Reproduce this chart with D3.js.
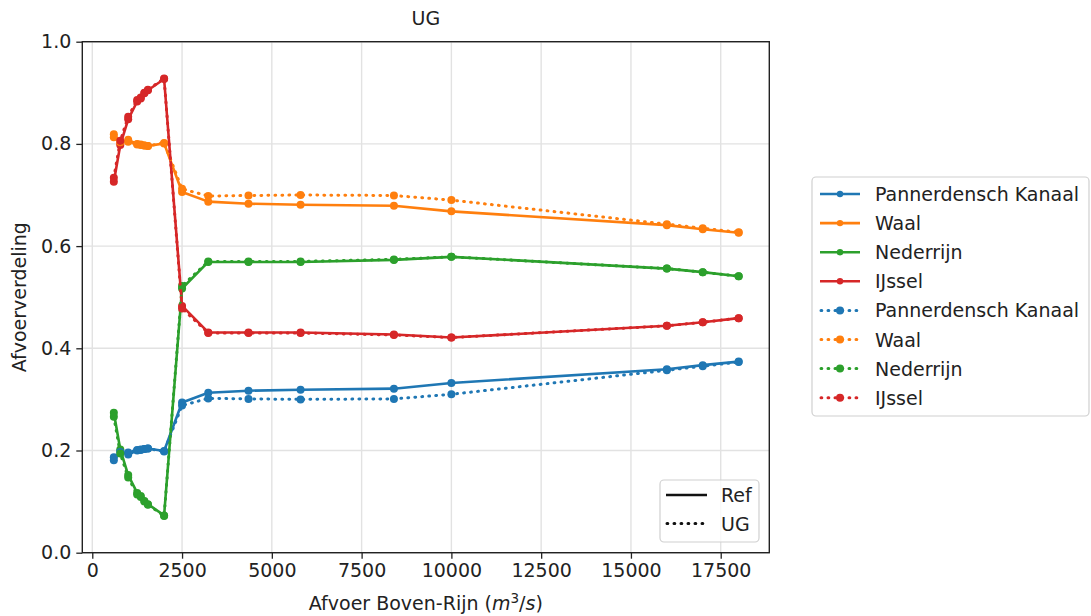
<!DOCTYPE html>
<html><head><meta charset="utf-8">
<script src="https://cdn.jsdelivr.net/npm/d3@7"></script>
<style>body{margin:0;background:#fff} text{font-family:"DejaVu Sans",sans-serif;fill:#222}</style>
</head><body><svg id="c" width="1091" height="616"></svg>
<script>
// ---- data ----
const discharge = [600, 780, 1000, 1250, 1350, 1450, 1550, 2000, 2500, 3230, 4350, 5800, 8400, 10000, 16000, 17000, 18000];
const seriesNames = ["Pannerdensch Kanaal", "Waal", "Nederrijn", "IJssel"];
const seriesColors = ["#1f77b4", "#ff7f0e", "#2ca02c", "#d62728"];
const refPannerdensch = [0.181, 0.199, 0.192, 0.200, 0.201, 0.203, 0.204, 0.199, 0.294, 0.313, 0.317, 0.319, 0.321, 0.332, 0.359, 0.367, 0.374];
const refWaal         = [0.819, 0.801, 0.808, 0.800, 0.799, 0.797, 0.796, 0.801, 0.706, 0.687, 0.683, 0.681, 0.679, 0.668, 0.641, 0.633, 0.626];
const refNederrijn    = [0.274, 0.202, 0.152, 0.117, 0.111, 0.101, 0.095, 0.073, 0.517, 0.569, 0.569, 0.569, 0.573, 0.579, 0.556, 0.549, 0.541];
const refIJssel       = [0.726, 0.798, 0.848, 0.883, 0.889, 0.899, 0.905, 0.927, 0.483, 0.431, 0.431, 0.431, 0.427, 0.421, 0.444, 0.451, 0.459];
const ugPannerdensch  = [0.187, 0.197, 0.196, 0.201, 0.202, 0.203, 0.204, 0.198, 0.288, 0.302, 0.301, 0.300, 0.301, 0.310, 0.357, 0.365, 0.373];
const ugWaal          = [0.813, 0.803, 0.804, 0.799, 0.798, 0.797, 0.796, 0.802, 0.712, 0.698, 0.699, 0.700, 0.699, 0.690, 0.643, 0.635, 0.627];
const ugNederrijn     = [0.266, 0.194, 0.147, 0.114, 0.109, 0.100, 0.094, 0.072, 0.522, 0.570, 0.570, 0.570, 0.574, 0.579, 0.556, 0.549, 0.541];
const ugIJssel        = [0.734, 0.806, 0.853, 0.886, 0.891, 0.900, 0.906, 0.928, 0.478, 0.430, 0.430, 0.430, 0.426, 0.421, 0.444, 0.451, 0.459];
const xTicks = [0, 2500, 5000, 7500, 10000, 12500, 15000, 17500];
const yTicks = [0.0, 0.2, 0.4, 0.6, 0.8, 1.0];
const styleLabels = ["Ref", "UG"];

const refSeries = [refPannerdensch, refWaal, refNederrijn, refIJssel];
const ugSeries = [ugPannerdensch, ugWaal, ugNederrijn, ugIJssel];

// ---- layout ----
const L = 82.3, R = 769.3, T = 41.7, B = 552.7;
const svg = d3.select("#c");
const x = d3.scaleLinear().domain([-278, 18853]).range([L, R]);
const y = d3.scaleLinear().domain([0, 1]).range([B, T]);
const FS = 19;
const DOT = "0.8,6.2";

// grid
const grid = svg.append("g");
grid.selectAll(".gx").data(xTicks).join("line")
  .attr("x1", d => x(d)).attr("x2", d => x(d)).attr("y1", T).attr("y2", B)
  .attr("stroke", "#e2e2e2").attr("stroke-width", 1.4);
grid.selectAll(".gy").data(yTicks).join("line")
  .attr("y1", d => y(d)).attr("y2", d => y(d)).attr("x1", L).attr("x2", R)
  .attr("stroke", "#e2e2e2").attr("stroke-width", 1.4);

// lines
const plot = svg.append("g");
function drawSeries(vals, color, dashed) {
  const line = d3.line().x((d, i) => x(discharge[i])).y(d => y(d));
  plot.append("path").datum(vals).attr("d", line).attr("fill", "none")
    .attr("stroke", color).attr("stroke-width", dashed ? 3 : 2.6)
    .attr("stroke-dasharray", dashed ? DOT : null)
    .attr("stroke-linecap", dashed ? "round" : "butt")
    .attr("stroke-linejoin", "round");
  plot.append("g").selectAll("circle").data(vals).join("circle")
    .attr("cx", (d, i) => x(discharge[i])).attr("cy", d => y(d)).attr("r", 4)
    .attr("fill", color);
}
refSeries.forEach((s, k) => drawSeries(s, seriesColors[k], false));
ugSeries.forEach((s, k) => drawSeries(s, seriesColors[k], true));

// axes
const xAxis = svg.append("g").attr("transform", `translate(0,${B})`)
  .call(d3.axisBottom(x).tickValues(xTicks).tickFormat(d3.format("d")).tickSize(6).tickPadding(5));
const yAxis = svg.append("g").attr("transform", `translate(${L},0)`)
  .call(d3.axisLeft(y).tickValues(yTicks).tickFormat(d3.format(".1f")).tickSize(6).tickPadding(5));
[xAxis, yAxis].forEach(a => {
  a.select(".domain").remove();
  a.selectAll(".tick line").attr("stroke", "#222").attr("stroke-width", 1.3);
  a.selectAll(".tick text").attr("font-size", FS).attr("font-family", "DejaVu Sans").attr("fill", "#222");
});
// frame
svg.append("rect").attr("x", L).attr("y", T).attr("width", R - L).attr("height", B - T)
  .attr("fill", "none").attr("stroke", "#222").attr("stroke-width", 1.4);

// title and labels
svg.append("text").attr("x", (L + R) / 2).attr("y", 25).attr("text-anchor", "middle")
  .attr("font-size", FS).text("UG");
svg.append("text").attr("transform", `translate(26,${(T + B) / 2}) rotate(-90)`)
  .attr("text-anchor", "middle").attr("font-size", FS).text("Afvoerverdeling");
const xl = svg.append("text").attr("x", (L + R) / 2).attr("y", 610).attr("text-anchor", "middle").attr("font-size", FS);
xl.append("tspan").text("Afvoer Boven-Rijn (");
xl.append("tspan").attr("font-style", "italic").text("m");
xl.append("tspan").attr("font-size", 13.5).attr("dy", -7).text("3");
xl.append("tspan").attr("dy", 7).text("/");
xl.append("tspan").attr("font-style", "italic").text("s");
xl.append("tspan").text(")");

// main legend
const lg = svg.append("g");
lg.append("rect").attr("x", 812).attr("y", 177).attr("width", 277).attr("height", 239).attr("rx", 4)
  .attr("fill", "#fff").attr("fill-opacity", 0.8).attr("stroke", "#d0d0d0").attr("stroke-width", 1.2);
const legendItems = [];
styleLabels.forEach((st, si) => seriesNames.forEach((n, k) => legendItems.push({ name: n, color: seriesColors[k], dashed: si === 1 })));
legendItems.forEach((it, i) => {
  const yy = 194 + i * 29.1;
  lg.append("line").attr("x1", it.dashed ? 821 : 820).attr("x2", 860).attr("y1", yy).attr("y2", yy)
    .attr("stroke", it.color).attr("stroke-width", it.dashed ? 3 : 2.6)
    .attr("stroke-dasharray", it.dashed ? DOT : null)
    .attr("stroke-linecap", it.dashed ? "round" : "butt");
  lg.append("circle").attr("cx", 840).attr("cy", yy).attr("r", it.dashed ? 4 : 3.2).attr("fill", it.color);
  lg.append("text").attr("x", 875).attr("y", yy + 7).attr("font-size", FS).text(it.name);
});

// style legend
const sg = svg.append("g");
sg.append("rect").attr("x", 660).attr("y", 480).attr("width", 99).attr("height", 62).attr("rx", 4)
  .attr("fill", "#fff").attr("fill-opacity", 0.8).attr("stroke", "#d0d0d0").attr("stroke-width", 1.2);
styleLabels.forEach((st, i) => {
  const yy = 495 + i * 28.5;
  sg.append("line").attr("x1", i === 1 ? 667 : 666).attr("x2", 707).attr("y1", yy).attr("y2", yy)
    .attr("stroke", "#111").attr("stroke-width", i === 1 ? 3 : 2.6)
    .attr("stroke-dasharray", i === 1 ? DOT : null)
    .attr("stroke-linecap", i === 1 ? "round" : "butt");
  sg.append("text").attr("x", 721).attr("y", yy + 7).attr("font-size", FS).text(st);
});
</script></body></html>
